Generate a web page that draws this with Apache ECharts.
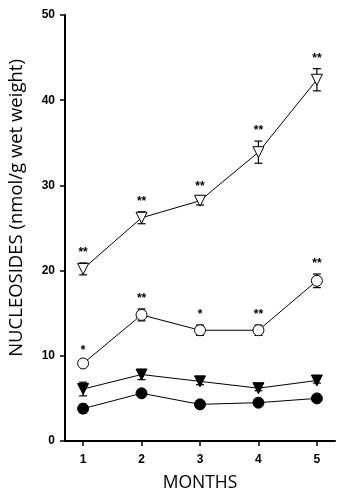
<!DOCTYPE html>
<html>
<head>
<meta charset="utf-8">
<script src="https://cdn.jsdelivr.net/npm/echarts@6/dist/echarts.min.js"></script>
<style>
html,body{margin:0;padding:0;background:#fff;}
#c{width:357px;height:500px;}
</style>
</head>
<body>
<div id="c"></div>
<script>
var months = [1, 2, 3, 4, 5];
var xTickLabels = ['1', '2', '3', '4', '5'];
var yTicks = [0, 10, 20, 30, 40, 50];

var openTri = [20.2, 26.2, 28.2, 33.9, 42.4];
var openTriErr = [0.7, 0.7, 0.5, 1.3, 1.3];
var openTriSig = ['**', '**', '**', '**', '**'];

var openCirc = [9.1, 14.8, 13.0, 13.0, 18.8];
var openCircErr = [0.3, 0.7, 0.6, 0.6, 0.8];
var openCircSig = ['*', '**', '*', '**', '**'];

var filledTri = [6.1, 7.8, 7.0, 6.2, 7.1];
var filledTriErr = [0.8, 0.6, 0.4, 0.3, 0.3];

var filledCirc = [3.8, 5.6, 4.3, 4.5, 5.0];
var filledCircErr = [0.5, 0.3, 0.4, 0.3, 0.3];

function pairs(vals) { return months.map(function (m, i) { return [m, vals[i]]; }); }
function errData(vals, errs) { return months.map(function (m, i) { return [m, vals[i] - errs[i], vals[i] + errs[i]]; }); }
function sigData(vals, errs, sig) { return months.map(function (m, i) { return [m, vals[i] + errs[i], sig[i]]; }); }

function errRender(params, api) {
  var x = api.value(0);
  var lo = api.coord([x, api.value(1)]);
  var hi = api.coord([x, api.value(2)]);
  var w = 4;
  var st = { stroke: '#000', lineWidth: 1.2 };
  return {
    type: 'group',
    children: [
      { type: 'line', shape: { x1: lo[0], y1: lo[1], x2: hi[0], y2: hi[1] }, style: st },
      { type: 'line', shape: { x1: lo[0] - w, y1: lo[1], x2: lo[0] + w, y2: lo[1] }, style: st },
      { type: 'line', shape: { x1: hi[0] - w, y1: hi[1], x2: hi[0] + w, y2: hi[1] }, style: st }
    ]
  };
}
function sigRender(params, api) {
  var p = api.coord([api.value(0), api.value(1)]);
  return {
    type: 'text',
    style: {
      x: p[0], y: p[1] - 4, text: api.value(2),
      fill: '#000', font: 'bold 12px "Liberation Sans", Arial, sans-serif',
      align: 'center', verticalAlign: 'bottom'
    }
  };
}

function lineSeries(vals, symbol, rotate, fill) {
  return {
    type: 'line', data: pairs(vals), symbol: symbol, symbolSize: 11, symbolRotate: rotate,
    showAllSymbol: true, z: 5,
    lineStyle: { color: '#000', width: 1 },
    itemStyle: { color: fill, borderColor: '#000', borderWidth: 1 },
    emphasis: { disabled: true }, animation: false
  };
}
function errSeries(vals, errs) {
  return { type: 'custom', data: errData(vals, errs), renderItem: errRender, z: 3, animation: false,
    encode: { x: 0, y: [1, 2] } };
}
function sigSeries(vals, errs, sig) {
  return { type: 'custom', data: sigData(vals, errs, sig), renderItem: sigRender, z: 6, animation: false,
    encode: { x: 0, y: 1 } };
}

var chart = echarts.init(document.getElementById('c'), null, { renderer: 'canvas' });
chart.setOption({
  backgroundColor: '#fff',
  animation: false,
  grid: { left: 65, right: 22, top: 15, bottom: 59, containLabel: false },
  xAxis: {
    type: 'value', min: 0.69, max: 5.31,
    axisLine: { show: true, lineStyle: { color: '#000', width: 2 } },
    axisTick: { show: true, length: 5, lineStyle: { color: '#000', width: 1.5 }, customValues: months },
    axisLabel: { color: '#000', fontWeight: 'bold', fontSize: 12, fontFamily: '"Liberation Sans", Arial, sans-serif',
      margin: 13, customValues: months,
      formatter: function (v) { var i = months.indexOf(Math.round(v)); return i >= 0 ? xTickLabels[i] : ''; } },
    splitLine: { show: false }
  },
  yAxis: {
    type: 'value', min: 0, max: 50, interval: 10,
    axisLine: { show: true, lineStyle: { color: '#000', width: 2 } },
    axisTick: { show: true, length: 5, lineStyle: { color: '#000', width: 1.5 } },
    axisLabel: { color: '#000', fontWeight: 'bold', fontSize: 12, fontFamily: '"Liberation Sans", Arial, sans-serif',
      margin: 10, formatter: function (v) { return yTicks.indexOf(v) >= 0 ? String(v) : ''; } },
    splitLine: { show: false }
  },
  graphic: [
    { type: 'text', x: 200, y: 483, style: { text: 'MONTHS', fill: '#000',
      font: '17.5px "Open Sans", sans-serif', align: 'center', verticalAlign: 'middle' } },
    { type: 'text', x: 17, y: 208, rotation: Math.PI / 2, style: { text: 'NUCLEOSIDES (nmol/g wet weight)', fill: '#000',
      font: '18.5px "Open Sans", sans-serif', align: 'center', verticalAlign: 'middle' } }
  ],
  series: [
    errSeries(filledCirc, filledCircErr),
    errSeries(filledTri, filledTriErr),
    errSeries(openCirc, openCircErr),
    errSeries(openTri, openTriErr),
    lineSeries(filledCirc, 'circle', 0, '#000'),
    lineSeries(filledTri, 'triangle', 180, '#000'),
    lineSeries(openCirc, 'circle', 0, '#fff'),
    lineSeries(openTri, 'triangle', 180, '#fff'),
    sigSeries(openCirc, openCircErr, openCircSig),
    sigSeries(openTri, openTriErr, openTriSig)
  ]
});
</script>
</body>
</html>
